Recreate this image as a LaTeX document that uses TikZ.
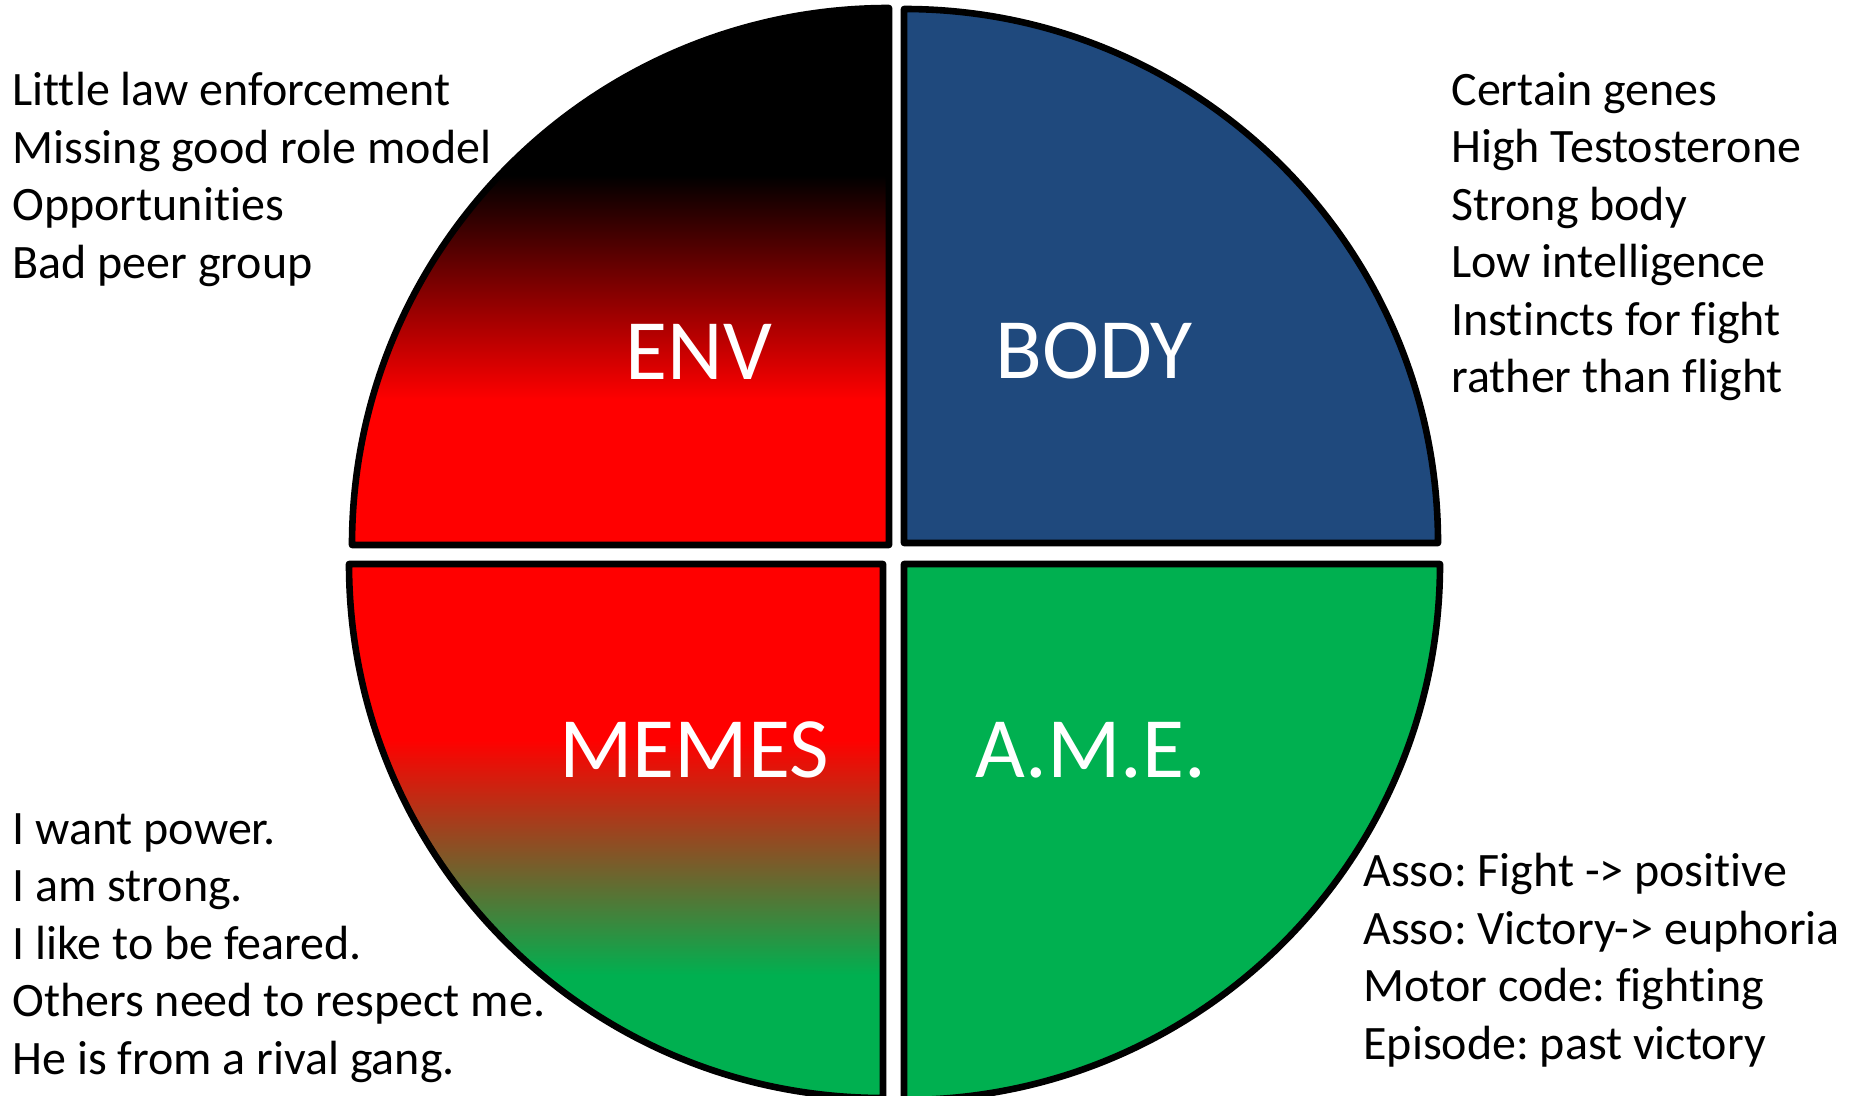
\documentclass[tikz,border=0pt]{standalone}
\usepackage{fontspec}
\setmainfont{Carlito}[Ligatures={NoCommon,NoRequired,NoContextual}]
\frenchspacing
\definecolor{bodyblue}{HTML}{1F497D}
\definecolor{amegreen}{HTML}{00B050}
\definecolor{hotred}{HTML}{FF0000}
\tikzset{
  quad/.style={draw=black, line width=3.3pt, line join=round},
  factlist/.style={anchor=north west, inner sep=0pt, align=left,
    font=\fontsize{24}{28.75}\selectfont},
  bigword/.style={inner sep=0pt, text=white, font=\fontsize{43}{50}\selectfont}
}
\begin{document}
\begin{tikzpicture}[x=0.5pt,y=-0.5pt]
\useasboundingbox (0,0) rectangle (1851,1096);
\fill[white] (0,0) rectangle (1851,1096);

% quadrant outlines (pixel-style coordinates, y pointing down)
\def\envpath{(889,545) -- (352,545) arc[start angle=180,end angle=270,radius=537] -- cycle}
\def\bodypath{(904,543) -- (904,9) arc[start angle=270,end angle=360,radius=534] -- cycle}
\def\memespath{(883,564) -- (349,564) arc[start angle=180,end angle=90,radius=534] -- cycle}
\def\amepath{(904,564) -- (1440,564) arc[start angle=0,end angle=90,radius=536] -- cycle}

% ENV: black at the top fading into red
\begin{scope}
  \clip \envpath;
  \fill[black] (340,0) rectangle (900,175);
  \shade[top color=black, bottom color=hotred] (340,175) rectangle (900,400);
  \fill[hotred] (340,400) rectangle (900,560);
\end{scope}
\draw[quad] \envpath;

% BODY
\fill[bodyblue] \bodypath;
\draw[quad] \bodypath;

% MEMES: red at the top fading into green
\begin{scope}
  \clip \memespath;
  \fill[hotred] (340,550) rectangle (900,740);
  \shade[top color=hotred, bottom color=amegreen] (340,740) rectangle (900,975);
  \fill[amegreen] (340,975) rectangle (900,1110);
\end{scope}
\draw[quad] \memespath;

% A.M.E.
\fill[amegreen] \amepath;
\draw[quad] \amepath;

% quadrant titles
\node[bigword] (env)   at (699,352) {ENV};
\node[bigword] (body)  at (1094,351) {BODY};
\node[bigword] (memes) at (694,750) {MEMES};
\node[bigword] (ame)   at (1091,750) {A.M.E.};

% factor lists
\node[factlist] (envlist) at (12,72) {Little law enforcement\\Missing good role model\\Opportunities\\Bad peer group};
\node[factlist] (bodylist) at (1451,72) {Certain genes\\High Testosterone\\Strong body\\Low intelligence\\Instincts for fight\\rather than flight};
\node[factlist] (memeslist) at (12,813) {I want power.\\I am strong.\\I like to be feared.\\Others need to respect me.\\He is from a rival gang.};
\node[factlist] (amelist) at (1363,853) {Asso: Fight -> positive\\Asso: Victory-> euphoria\\Motor code: fighting\\Episode: past victory};
\end{tikzpicture}
\end{document}
